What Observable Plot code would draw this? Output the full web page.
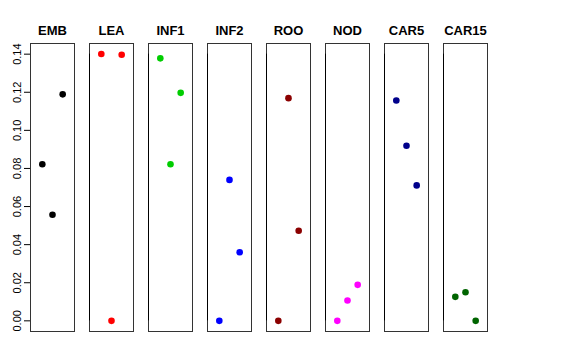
<!DOCTYPE html>
<html>
<head>
<meta charset="utf-8">
<script src="https://cdn.jsdelivr.net/npm/d3@7"></script>
<script src="https://cdn.jsdelivr.net/npm/@observablehq/plot@0.6"></script>
<style>
  html, body { margin: 0; padding: 0; background: #fff; }
  #chart svg { display: block; }
</style>
</head>
<body>
<div id="chart"></div>
<script>
const tissues = ["EMB", "LEA", "INF1", "INF2", "ROO", "NOD", "CAR5", "CAR15"];
const colors  = ["#000000", "#FF0000", "#00CD00", "#0000FF", "#8B0000", "#FF00FF", "#00008B", "#006400"];
const rep1 = [0.0822, 0.1401, 0.1378, 0.0000, 0.0000, 0.0000, 0.1157, 0.0126];
const rep2 = [0.0557, 0.0000, 0.0822, 0.0740, 0.1169, 0.0107, 0.0919, 0.0150];
const rep3 = [0.1189, 0.1397, 0.1197, 0.0360, 0.0473, 0.0189, 0.0711, 0.0000];
const yTicks = [0, 0.02, 0.04, 0.06, 0.08, 0.10, 0.12, 0.14];

const data = [];
tissues.forEach((t, i) => {
  [rep1, rep2, rep3].forEach((rep, j) => {
    data.push({tissue: t, rep: j + 1, value: rep[i], color: colors[i]});
  });
});

const font = '"Liberation Sans", Arial, Helvetica, sans-serif';

const chart = Plot.plot({
  width: 576,
  height: 360,
  marginLeft: 29,
  marginRight: 88,
  marginTop: 43,
  marginBottom: 29,
  style: {fontFamily: font, background: "#fff", color: "#000"},
  fx: {domain: tissues, paddingInner: 0.252, paddingOuter: 0, label: null},
  x: {domain: [-0.16, 4.16], axis: null},
  y: {domain: [-0.0056, 0.1456], axis: null},
  marks: [
    Plot.frame({stroke: "#333", strokeWidth: 1}),
    Plot.axisFx({anchor: "top", label: null, tickSize: 0, tickPadding: 9, fontSize: 13, fontWeight: "bold"}),
    Plot.axisY({ticks: yTicks, tickFormat: d3.format(".2f"), tickSize: 6, tickPadding: 4, tickRotate: -90, fontSize: 11, label: null}),
    Plot.ruleX([0], {x: -0.16, y1: 0, y2: 0.14, stroke: "#000", facet: "exclude", fx: () => "EMB"}),
    Plot.dot(data, {fx: "tissue", x: "rep", y: "value", fill: "color", r: 3.3, stroke: null})
  ]
});
document.getElementById("chart").appendChild(chart);
</script>
</body>
</html>
